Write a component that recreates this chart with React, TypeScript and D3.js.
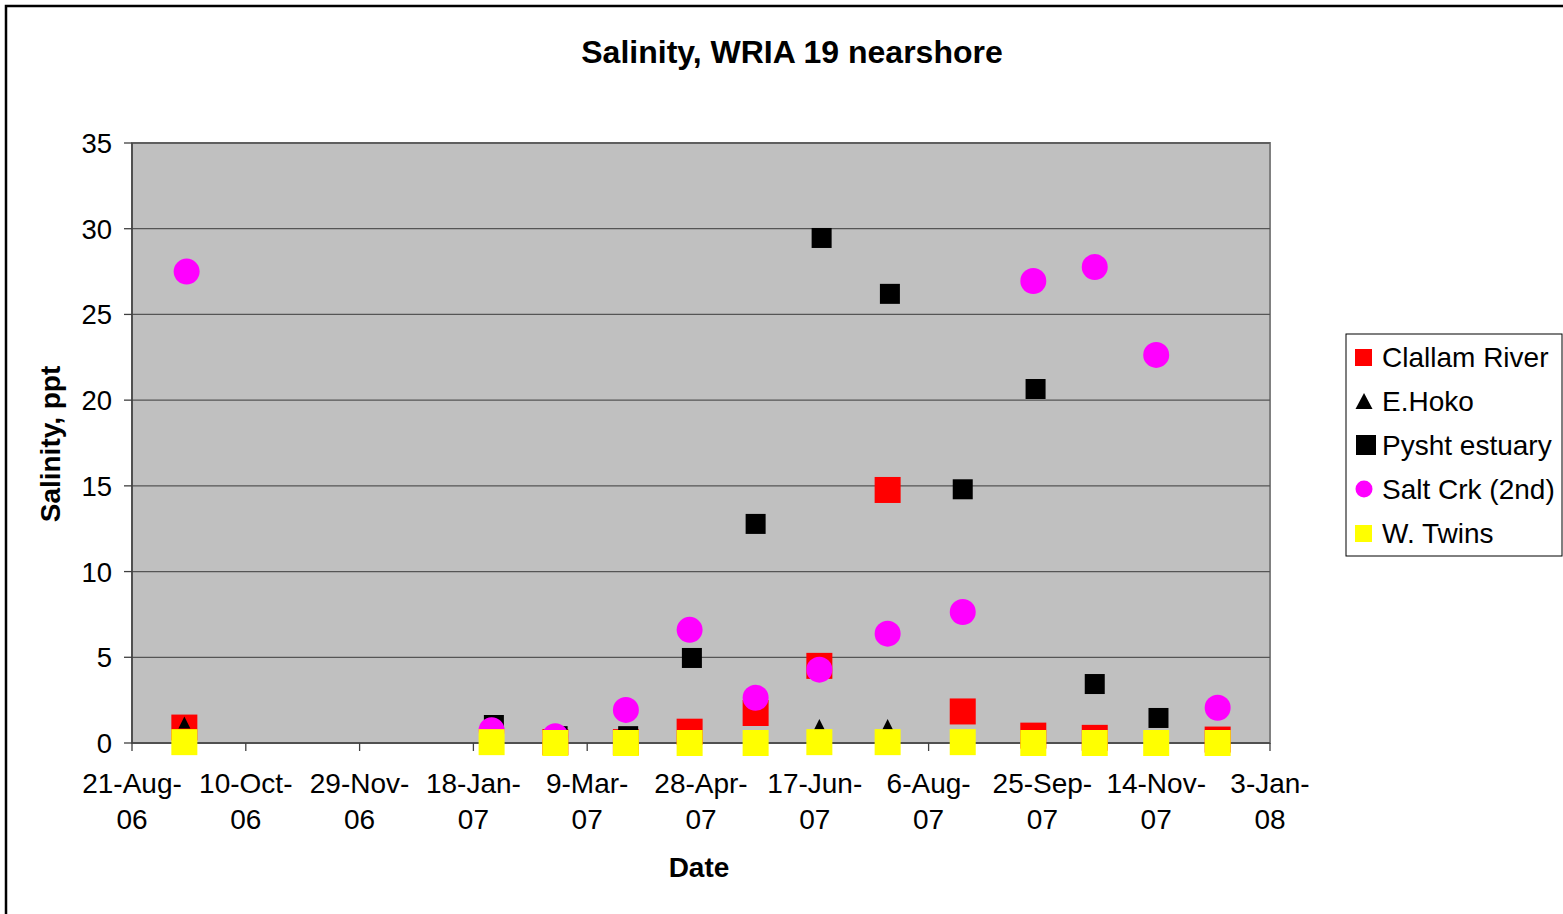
import React from "react";
import * as d3 from "d3";

const startDate = "2006-08-21";
const endDate = "2008-01-03";
const yTicks = [0, 5, 10, 15, 20, 25, 30, 35];

const clallamDates = ["2006-09-13", "2007-02-23", "2007-03-26", "2007-04-23", "2007-05-22", "2007-06-19", "2007-07-19", "2007-08-21", "2007-09-21", "2007-10-18", "2007-12-11"];
const clallamValues = [0.9, 0.05, 0.05, 0.66, 1.75, 4.5, 14.76, 1.84, 0.43, 0.3, 0.2];

const hokoDates = ["2006-09-13", "2007-06-19", "2007-07-19", "2007-09-21"];
const hokoValues = [1.2, 1.05, 1.05, 0.35];

const pyshtDates = ["2007-01-27", "2007-02-24", "2007-03-27", "2007-04-24", "2007-05-22", "2007-06-20", "2007-07-20", "2007-08-21", "2007-09-22", "2007-10-18", "2007-11-15"];
const pyshtValues = [1.05, 0.4, 0.4, 4.96, 12.78, 29.46, 26.2, 14.8, 20.65, 3.44, 1.46];

const saltDates = ["2006-09-14", "2007-01-26", "2007-02-23", "2007-03-26", "2007-04-23", "2007-05-22", "2007-06-19", "2007-07-19", "2007-08-21", "2007-09-21", "2007-10-18", "2007-11-14", "2007-12-11"];
const saltValues = [27.5, 0.75, 0.4, 1.93, 6.6, 2.64, 4.28, 6.38, 7.64, 26.95, 27.77, 22.64, 2.06];

const twinsDates = ["2006-09-13", "2007-01-26", "2007-02-23", "2007-03-26", "2007-04-23", "2007-05-22", "2007-06-19", "2007-07-19", "2007-08-21", "2007-09-21", "2007-10-18", "2007-11-14", "2007-12-11"];
const twinsValues = [0.05, 0.05, 0, 0, 0, 0, 0.05, 0.05, 0.05, 0, 0, 0, 0];

const seriesNames = ["Clallam River", "E.Hoko", "Pysht estuary", "Salt Crk (2nd)", "W. Twins"];

const FONT = "'Liberation Sans', Arial, sans-serif";

const parse = d3.utcParse("%Y-%m-%d");

export default function App() {
  const W = 1563, H = 914;
  const L = 132, R = 1270, T = 143, B = 743;
  const x = d3.scaleUtc().domain([parse(startDate)!, parse(endDate)!]).range([L, R]);
  const y = d3.scaleLinear().domain([0, 35]).range([B, T]);
  const xTicks = d3.range(0, 501, 50).map((d) => d3.utcDay.offset(parse(startDate)!, d));
  const fmt1 = d3.utcFormat("%-d-%b-");
  const fmt2 = d3.utcFormat("%y");

  const pts = (dates: string[], vals: number[]) =>
    dates.map((d, i) => ({ cx: x(parse(d)!), cy: y(vals[i]) }));

  const clallam = pts(clallamDates, clallamValues);
  const hoko = pts(hokoDates, hokoValues);
  const pysht = pts(pyshtDates, pyshtValues);
  const salt = pts(saltDates, saltValues);
  const twins = pts(twinsDates, twinsValues);

  const tri = (cx: number, cy: number, w: number, h: number) =>
    `M${cx},${cy - h / 2}L${cx + w / 2},${cy + h / 2}L${cx - w / 2},${cy + h / 2}Z`;

  const legendY = [357, 401, 445, 489, 533];

  return (
    <svg width={W} height={H} style={{ position: "absolute", left: 0, top: 0, display: "block" }} fontFamily={FONT}>
      <rect x={0} y={0} width={W} height={H} fill="#fff" />
      <rect x={6} y={6} width={W + 100} height={H + 100} fill="#fff" stroke="#000" strokeWidth={2.5} />
      <text x={792} y={63} textAnchor="middle" fontSize={32} fontWeight="bold">Salinity, WRIA 19 nearshore</text>

      {/* plot area */}
      <rect x={L} y={T} width={R - L} height={B - T} fill="#C0C0C0" stroke="#808080" strokeWidth={2} />
      {yTicks.filter((t) => t > 0).map((t) => (
        <line key={t} x1={L} x2={R} y1={y(t)} y2={y(t)} stroke="#555" strokeWidth={1.3} />
      ))}
      {/* axes */}
      <line x1={L} x2={L} y1={T} y2={B} stroke="#404040" strokeWidth={1.5} />
      <line x1={L} x2={R} y1={B} y2={B} stroke="#404040" strokeWidth={1.5} />
      {yTicks.map((t) => (
        <g key={t}>
          <line x1={L - 8} x2={L} y1={y(t)} y2={y(t)} stroke="#404040" strokeWidth={1.3} />
          <text x={112} y={y(t) + 10} textAnchor="end" fontSize={27.5}>{t}</text>
        </g>
      ))}
      {xTicks.map((d, i) => (
        <g key={i}>
          <line x1={x(d)} x2={x(d)} y1={B} y2={B + 8} stroke="#404040" strokeWidth={1.3} />
          <text x={x(d)} y={793} textAnchor="middle" fontSize={28}>{fmt1(d)}</text>
          <text x={x(d)} y={829} textAnchor="middle" fontSize={28}>{fmt2(d)}</text>
        </g>
      ))}
      <text x={699} y={877} textAnchor="middle" fontSize={28} fontWeight="bold">Date</text>
      <text transform={`translate(60,444) rotate(-90)`} textAnchor="middle" fontSize={28} fontWeight="bold">Salinity, ppt</text>

      {/* series */}
      {clallam.map((p, i) => <rect key={"c" + i} x={p.cx - 13} y={p.cy - 13} width={26} height={26} fill="#FF0000" />)}
      {hoko.map((p, i) => <path key={"h" + i} d={tri(p.cx, p.cy, 12, 12)} fill="#000" />)}
      {pysht.map((p, i) => <rect key={"p" + i} x={p.cx - 10} y={p.cy - 10} width={20} height={20} fill="#000" />)}
      {salt.map((p, i) => <circle key={"s" + i} cx={p.cx} cy={p.cy} r={13} fill="#FF00FF" />)}
      {twins.map((p, i) => <rect key={"t" + i} x={p.cx - 13} y={p.cy - 13} width={26} height={26} fill="#FFFF00" />)}

      {/* legend */}
      <rect x={1346} y={334} width={216} height={222} fill="#fff" stroke="#000" strokeWidth={1} />
      <rect x={1355} y={legendY[0] - 8} width={17} height={17} fill="#FF0000" />
      <path d={tri(1364, legendY[1], 17, 16)} fill="#000" />
      <rect x={1356} y={legendY[2] - 10} width={20} height={20} fill="#000" />
      <circle cx={1364} cy={legendY[3]} r={8.5} fill="#FF00FF" />
      <rect x={1355} y={legendY[4] - 8} width={17} height={17} fill="#FFFF00" />
      {seriesNames.map((n, i) => (
        <text key={n} x={1382} y={legendY[i] + 10} fontSize={28}>{n}</text>
      ))}
    </svg>
  );
}
